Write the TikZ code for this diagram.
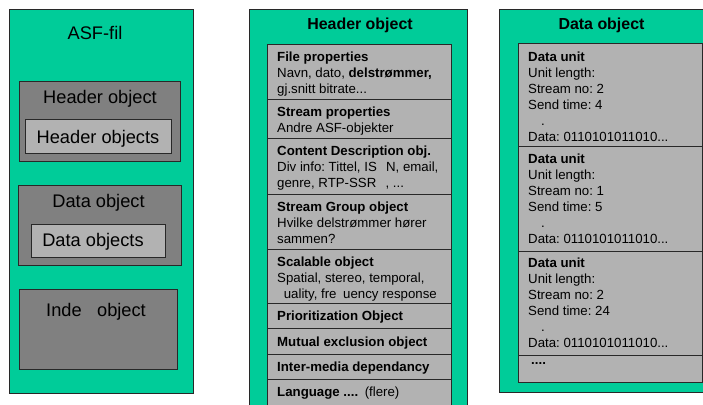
\documentclass[tikz,border=0pt]{standalone}
\usepackage{fontspec}
\setmainfont{Liberation Sans}
\frenchspacing
\definecolor{asfgreen}{RGB}{0,204,153}
\definecolor{darkbox}{RGB}{128,128,128}
\definecolor{lightbox}{RGB}{178,178,178}
\definecolor{edge}{RGB}{40,40,40}
\tikzset{
  panel/.style={draw=edge, line width=0.9bp, fill=asfgreen},
  objbox/.style={draw=edge, line width=0.9bp, fill=darkbox},
  subbox/.style={draw=edge, line width=0.9bp, fill=lightbox},
  rowbox/.style={draw=edge, line width=0.9bp, fill=lightbox},
  bigtxt/.style={font={\fontsize{18.3}{20}\selectfont}, inner sep=0pt, anchor=base},
  headtxt/.style={font={\fontsize{16}{18}\selectfont\bfseries}, inner sep=0pt, anchor=base},
  rowtxt/.style={font={\fontsize{13.3}{16}\selectfont}, inner sep=0pt, anchor=north west, align=left},
}
\begin{document}
\begin{tikzpicture}[x=1bp,y=-1bp]
\useasboundingbox (0,0) rectangle (703,404);
\clip (0,0) rectangle (703,404);

% ---------- ASF file overview ----------
\draw[panel] (9,9) rectangle (193,393);
\node[bigtxt] (asf) at (95,39.5) {ASF-fil};

\draw[objbox] (19,81) rectangle (180,161);
\node[bigtxt] (hdr) at (100,103.5) {Header object};
\draw[subbox] (25,119) rectangle (171,153);
\node[bigtxt] (hdrs) at (98,143) {Header objects};

\draw[objbox] (18,185) rectangle (181,265);
\node[bigtxt] (dat) at (98.5,207.5) {Data object};
\draw[subbox] (31,224) rectangle (165,257);
\node[bigtxt] (dats) at (93,246.5) {Data objects};

\draw[objbox] (19,289) rectangle (177,369);
\node[bigtxt] (idx) at (96,316.5) {Inde\hspace{0.85em}object};

% ---------- Header object ----------
\draw[panel] (249,9) rectangle (467,430);
\node[headtxt] (htitle) at (360,29.5) {Header object};
\foreach \ya/\yb in {44/99, 99/138, 138/194, 194/249, 249/303, 303/328, 328/354, 354/379, 379/430}
  \draw[rowbox] (267,\ya) rectangle (451,\yb);

\node[rowtxt] (h1) at (277,52) {\textbf{File properties}\\Navn, dato, \textbf{delstrømmer,}\\gj.snitt bitrate...};
\node[rowtxt] (h2) at (277,107) {\textbf{Stream properties}\\Andre ASF-objekter};
\node[rowtxt] (h3) at (277,146) {\textbf{Content Description obj.}\\Div info: Tittel, IS\hspace{0.7em}N, email,\\genre, RTP-SSR\hspace{0.7em}, ...};
\node[rowtxt] (h4) at (277,202) {\textbf{Stream Group object}\\Hvilke delstrømmer hører\\sammen?};
\node[rowtxt] (h5) at (277,257) {\textbf{Scalable object}\\Spatial, stereo, temporal,\\\hspace*{0.5em}uality, fre\hspace{0.5em}uency response};
\node[rowtxt] (h6) at (277,311) {\textbf{Prioritization Object}};
\node[rowtxt] (h7) at (277,337) {\textbf{Mutual exclusion object}};
\node[rowtxt] (h8) at (277,362) {\textbf{Inter-media dependancy}};
\node[rowtxt] (h9) at (277,387) {\textbf{Language ....}\hspace{0.5em}(flere)};

% ---------- Data object ----------
\draw[panel] (499,9) rectangle (712,392);
\node[headtxt] (dtitle) at (601.5,29.5) {Data object};
\foreach \ya/\yb in {43/146, 146/251, 251/355, 355/382}
  \draw[rowbox] (518,\ya) rectangle (702,\yb);

\node[rowtxt] (d1) at (528,52) {\textbf{Data unit}\\Unit length:\\Stream no: 2\\Send time: 4\\\hspace*{13bp}.\\Data: 0110101011010...};
\node[rowtxt] (d2) at (528,154) {\textbf{Data unit}\\Unit length:\\Stream no: 1\\Send time: 5\\\hspace*{13bp}.\\Data: 0110101011010...};
\node[rowtxt] (d3) at (528,258) {\textbf{Data unit}\\Unit length:\\Stream no: 2\\Send time: 24\\\hspace*{13bp}.\\Data: 0110101011010...};
\node[rowtxt] (d4) at (531,362) {\textbf{....}};
\end{tikzpicture}
\end{document}
